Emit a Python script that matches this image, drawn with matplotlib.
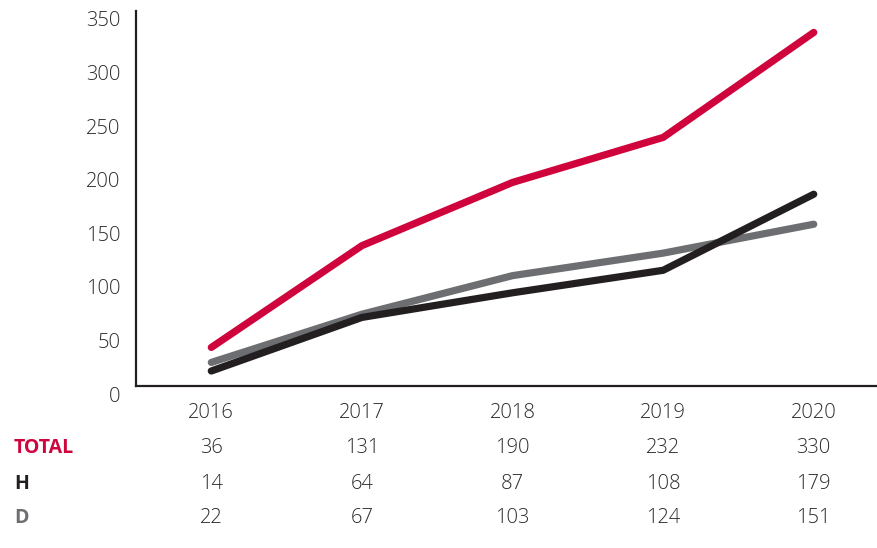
import matplotlib
matplotlib.use("Agg")
import matplotlib.pyplot as plt
import matplotlib.transforms as mtransforms

years = ["2016", "2017", "2018", "2019", "2020"]
total = [36, 131, 190, 232, 330]
h_vals = [14, 64, 87, 108, 179]
d_vals = [22, 67, 103, 124, 151]
y_ticks = [0, 50, 100, 150, 200, 250, 300, 350]
row_labels = ["TOTAL", "H", "D"]

RED = "#D0043C"
BLACK = "#231F20"
GRAY = "#6D6E71"
TEXT = "#2B2B2B"
FS = 14.5

plt.rcParams['font.family'] = ['Open Sans', 'DejaVu Sans']

fig = plt.figure(figsize=(8.77, 5.48), dpi=100)
ax = fig.add_axes([136/877, 1-386/548, 1-136/877, (386-11)/548])

x = list(range(len(years)))
lw = 5.2
ax.plot(x, d_vals, color=GRAY, lw=lw, solid_capstyle='round', solid_joinstyle='round', zorder=3)
ax.plot(x, h_vals, color=BLACK, lw=lw, solid_capstyle='round', solid_joinstyle='round', zorder=4)
ax.plot(x, total, color=RED, lw=lw, solid_capstyle='round', solid_joinstyle='round', zorder=5)

ax.set_xlim(-0.5, 4.42)
ax.set_ylim(0, 347)
ax.set_yticks(y_ticks)
ax.set_yticklabels([str(v) for v in y_ticks], fontsize=FS, color=TEXT, fontweight='light')
ax.set_xticks([])
ax.tick_params(axis='y', length=0, pad=11)
offset = mtransforms.ScaledTranslation(0, -8/100, fig.dpi_scale_trans)
for lbl in ax.get_yticklabels():
    lbl.set_transform(lbl.get_transform() + offset)

for s in ['top', 'right']:
    ax.spines[s].set_visible(False)
for s in ['left', 'bottom']:
    ax.spines[s].set_linewidth(1.6)
    ax.spines[s].set_color(BLACK)

# year labels and table
trans = mtransforms.blended_transform_factory(ax.transData, fig.transFigure)
def fy(py):
    return 1 - py/548

for i, yr in enumerate(years):
    ax.text(i, fy(413), yr, transform=trans, ha='center', va='center', fontsize=FS, color=TEXT, fontweight='light')

rows = [total, h_vals, d_vals]
row_y = [448, 484, 518]
row_colors = [RED, BLACK, GRAY]
for lab, vals, py, c in zip(row_labels, rows, row_y, row_colors):
    fig.text(14/877, fy(py), lab, ha='left', va='center', fontsize=FS - 0.5, color=c, fontweight='bold')
    for i, v in enumerate(vals):
        ax.text(i, fy(py), str(v), transform=trans, ha='center', va='center', fontsize=FS, color=TEXT, fontweight='light')

fig.savefig("out.png", dpi=100)
